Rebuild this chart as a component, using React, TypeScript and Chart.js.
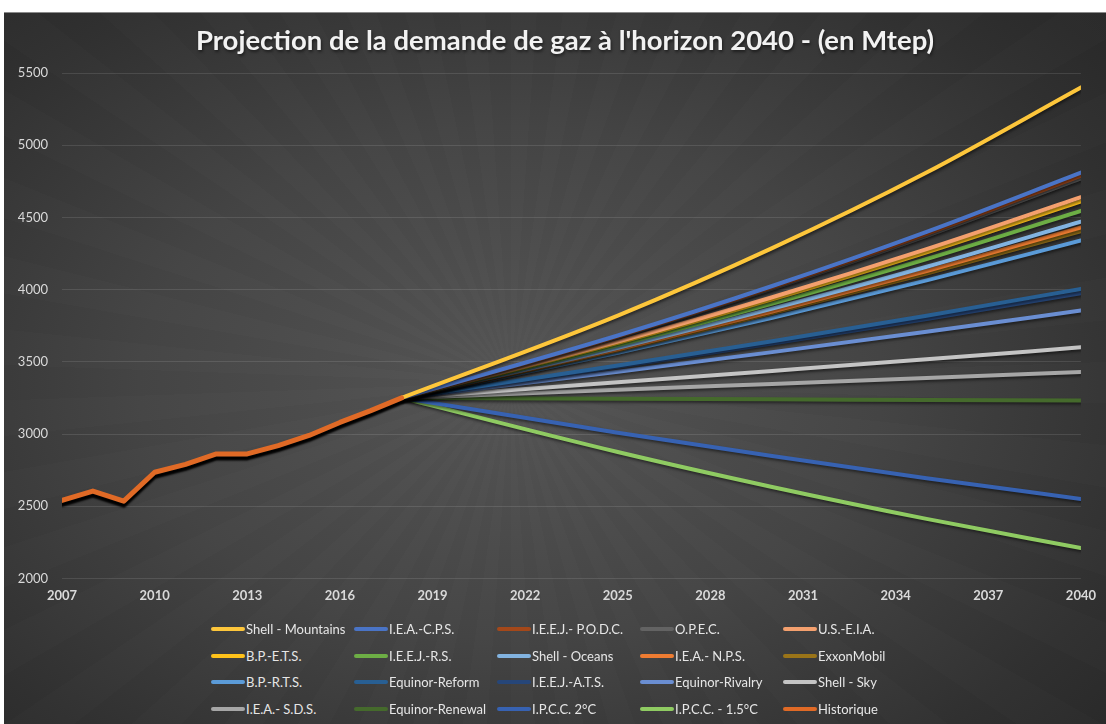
import React, { useEffect, useRef } from "react";
import { Chart, registerables } from "chart.js";

Chart.register(...registerables);

const TITLE = "Projection de la demande de gaz à l'horizon 2040 - (en Mtep)";

const yTickValues = [2000, 2500, 3000, 3500, 4000, 4500, 5000, 5500];
const xTickValues = [2007, 2010, 2013, 2016, 2019, 2022, 2025, 2028, 2031, 2034, 2037, 2040];

const histYears = [2007, 2008, 2009, 2010, 2011, 2012, 2013, 2014, 2015, 2016, 2017, 2018];
const histValues = [2540, 2605, 2535, 2735, 2790, 2862, 2862, 2920, 2990, 3080, 3162, 3250];

const projYears = [2018, 2025, 2030, 2035, 2040];
const shellMountains = [3250, 3820, 4287, 4811, 5400];
const ieaCps = [3250, 3682, 4025, 4400, 4810];
const ieejPodc = [3250, 3677, 4016, 4386, 4790];
const opec = [3250, 3672, 4007, 4372, 4770];
const usEia = [3250, 3640, 3947, 4280, 4640];
const bpEts = [3250, 3632, 3933, 4258, 4610];
const ieejRs = [3250, 3616, 3903, 4212, 4545];
const shellOceans = [3250, 3597, 3868, 4158, 4470];
const ieaNps = [3250, 3587, 3848, 4129, 4430];
const exxonMobil = [3250, 3580, 3837, 4111, 4405];
const bpRts = [3250, 3563, 3805, 4064, 4340];
const equinorReform = [3250, 3474, 3642, 3819, 4005];
const ieejAts = [3250, 3465, 3627, 3797, 3975];
const equinorRivalry = [3250, 3431, 3567, 3708, 3855];
const shellSky = [3250, 3358, 3437, 3517, 3600];
const ieaSds = [3250, 3306, 3347, 3388, 3430];
const equinorRenewal = [3250, 3244, 3240, 3236, 3232];
const ipcc2 = [3250, 3009, 2847, 2694, 2550];
const ipcc15 = [3250, 2875, 2633, 2412, 2210];

type S = { label: string; color: string; years: number[]; values: number[] };

const series: S[] = [
  { label: "Shell - Mountains", color: "#FDC63B", years: projYears, values: shellMountains },
  { label: "I.E.A.-C.P.S.", color: "#4A74C6", years: projYears, values: ieaCps },
  { label: "I.E.E.J.- P.O.D.C.", color: "#A4481A", years: projYears, values: ieejPodc },
  { label: "O.P.E.C.", color: "#636363", years: projYears, values: opec },
  { label: "U.S.-E.I.A.", color: "#F4A06E", years: projYears, values: usEia },
  { label: "B.P.-E.T.S.", color: "#FFC21A", years: projYears, values: bpEts },
  { label: "I.E.E.J.-R.S.", color: "#6DAE45", years: projYears, values: ieejRs },
  { label: "Shell - Oceans", color: "#82B3E0", years: projYears, values: shellOceans },
  { label: "I.E.A.- N.P.S.", color: "#EE7C32", years: projYears, values: ieaNps },
  { label: "ExxonMobil", color: "#9A7418", years: projYears, values: exxonMobil },
  { label: "B.P.-R.T.S.", color: "#5B9BD8", years: projYears, values: bpRts },
  { label: "Equinor-Reform", color: "#285F93", years: projYears, values: equinorReform },
  { label: "I.E.E.J.-A.T.S.", color: "#264679", years: projYears, values: ieejAts },
  { label: "Equinor-Rivalry", color: "#6A8ED2", years: projYears, values: equinorRivalry },
  { label: "Shell - Sky", color: "#C4C4C4", years: projYears, values: shellSky },
  { label: "I.E.A.- S.D.S.", color: "#A6A6A6", years: projYears, values: ieaSds },
  { label: "Equinor-Renewal", color: "#456A2C", years: projYears, values: equinorRenewal },
  { label: "I.P.C.C. 2°C", color: "#3762B2", years: projYears, values: ipcc2 },
  { label: "I.P.C.C. - 1.5°C", color: "#8FCB62", years: projYears, values: ipcc15 },
  { label: "Historique", color: "#E06A26", years: histYears, values: histValues },
];

const shadowPlugin = {
  id: "lineShadow",
  beforeDatasetDraw(chart: any, args: any) {
    const ctx = chart.ctx;
    ctx.save();
    const isHist = chart.data.datasets[args.index].label === "Historique";
    ctx.shadowColor = isHist ? "rgba(0,0,0,1)" : "rgba(0,0,0,0.5)";
    ctx.shadowBlur = isHist ? 2 : 3;
    ctx.shadowOffsetX = isHist ? 0 : 1;
    ctx.shadowOffsetY = isHist ? 4 : 2;
  },
  afterDatasetDraw(chart: any) {
    chart.ctx.restore();
  },
};

export default function App() {
  const ref = useRef<HTMLCanvasElement | null>(null);

  useEffect(() => {
    if (!ref.current) return;
    const chart = new Chart(ref.current, {
      type: "line",
      data: {
        datasets: series.map((s) => ({
          label: s.label,
          data: s.years.map((x, i) => ({ x, y: s.values[i] })),
          borderColor: s.color,
          backgroundColor: s.color,
          borderWidth: s.label === "Historique" ? 5 : 4,
          pointRadius: 0,
          cubicInterpolationMode: s.label === "Historique" ? "default" : "monotone",
          borderCapStyle: "round",
          borderJoinStyle: "round",
          order: s.label === "Historique" ? -1 : 0,
        })),
      },
      options: {
        animation: false,
        responsive: false,
        maintainAspectRatio: false,
        layout: { padding: { left: 0, right: 18, top: 61, bottom: 10 } },
        plugins: {
          legend: { display: false },
          tooltip: { enabled: false },
          title: { display: false },
        },
        scales: {
          x: {
            type: "linear",
            min: 2007,
            max: 2040,
            grid: { display: false, drawTicks: false },
            border: { display: false },
            afterBuildTicks: (scale: any) => {
              scale.ticks = xTickValues.map((v) => ({ value: v }));
            },
            ticks: {
              color: "#D9D9D9",
              padding: 10,
              font: { family: "Lato", size: 13, weight: "bold" },
              callback: (v: any) => String(v),
              maxRotation: 0,
              autoSkip: false,
            },
          },
          y: {
            min: 2000,
            max: 5500,
            grid: { color: "rgba(255,255,255,0.11)", drawTicks: false, lineWidth: 1 },
            border: { display: false },
            afterBuildTicks: (scale: any) => {
              scale.ticks = yTickValues.map((v) => ({ value: v }));
            },
            afterFit: (scale: any) => {
              scale.width = 58;
            },
            ticks: {
              color: "#D9D9D9",
              padding: 14,
              font: { family: "Lato", size: 13 },
              callback: (v: any) => String(v),
            },
          },
        },
      } as any,
      plugins: [shadowPlugin],
    });
    return () => chart.destroy();
  }, []);

  const rows: S[][] = [];
  for (let i = 0; i < series.length; i += 5) rows.push(series.slice(i, i + 5));

  return (
    <div style={{ position: "absolute", left: 0, top: 0, width: 1106, height: 724, background: "#fff", overflow: "hidden" }}>
      <div
        style={{
          position: "absolute",
          left: 4,
          top: 12,
          width: 1102,
          height: 712,
          borderTop: "1px solid #8a8a8a",
          boxSizing: "border-box",
          background:
            "repeating-conic-gradient(from 0deg at 46% 52%, rgba(255,255,255,0.012) 0deg 4deg, rgba(0,0,0,0) 4deg 8deg), radial-gradient(ellipse 75% 80% at 46% 52%, #555555 0%, #444444 45%, #303030 80%, #272727 100%)",
        }}
      >
        <canvas ref={ref} width={1102} height={612} style={{ position: "absolute", left: 0, top: -1, width: 1102, height: 612 }} />
        <div
          style={{
            position: "absolute",
            left: 0,
            top: 11,
            width: 1122,
            textAlign: "center",
            fontFamily: "Lato",
            fontWeight: 700,
            fontSize: 27.5,
            lineHeight: "32px",
            color: "#F2F2F2",
            whiteSpace: "nowrap",
            textShadow: "1px 2px 3px rgba(0,0,0,0.5)",
          }}
        >
          {TITLE}
        </div>
        {rows.map((row, r) => (
          <div key={r} style={{ position: "absolute", top: 604 + r * 26.7, left: 0, height: 24 }}>
            {row.map((s, c) => (
              <div
                key={s.label}
                style={{
                  position: "absolute",
                  left: 207 + c * 143,
                  top: 0,
                  height: 24,
                  display: "flex",
                  alignItems: "center",
                  whiteSpace: "nowrap",
                }}
              >
                <span
                  style={{
                    display: "inline-block",
                    width: 34,
                    height: 4,
                    borderRadius: 2,
                    background: s.color,
                    marginRight: 1,
                  }}
                />
                <span style={{ fontFamily: "Lato", fontSize: 13, color: "#E6E6E6" }}>{s.label}</span>
              </div>
            ))}
          </div>
        ))}
      </div>
    </div>
  );
}
